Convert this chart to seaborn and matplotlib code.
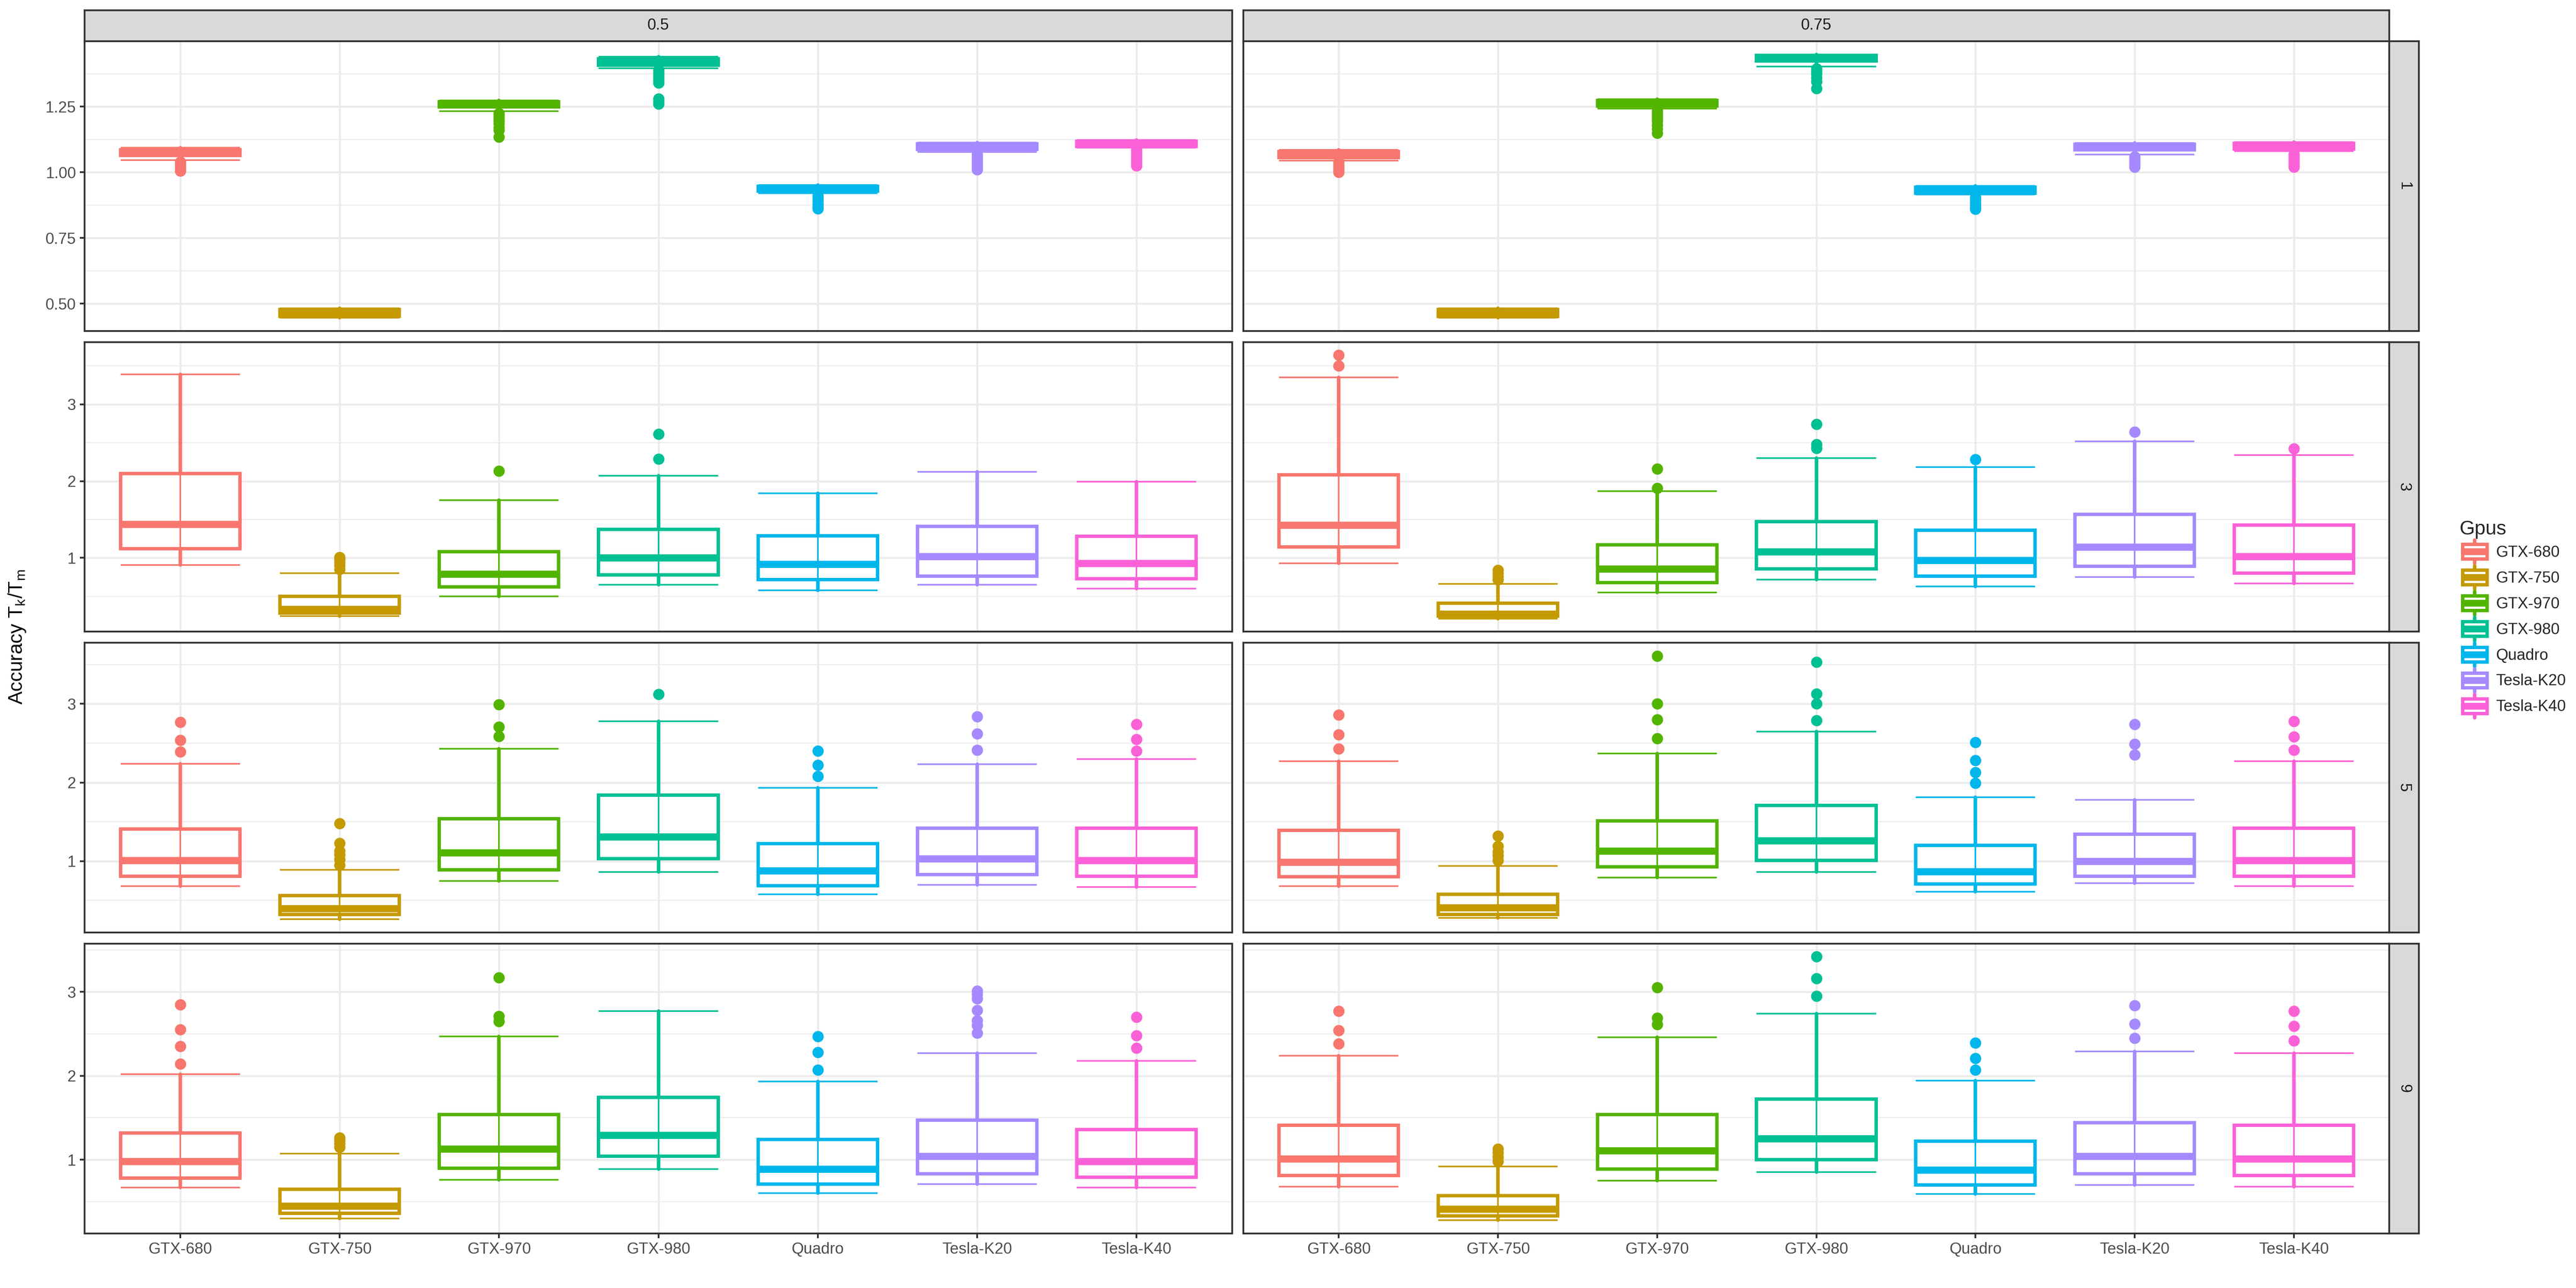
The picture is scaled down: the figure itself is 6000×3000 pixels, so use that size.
import numpy as np
import matplotlib
matplotlib.use("Agg")
import matplotlib.pyplot as plt
import seaborn as sns
from matplotlib.legend_handler import HandlerBase
from matplotlib.patches import Rectangle
from matplotlib.lines import Line2D
from matplotlib.ticker import MultipleLocator, FormatStrFormatter

# ---------------- data ----------------
gpus = ["GTX-680", "GTX-750", "GTX-970", "GTX-980", "Quadro", "Tesla-K20", "Tesla-K40"]
col_labels = ["0.5", "0.75"]
row_labels = ["1", "3", "5", "9"]
colors = ["#F8766D", "#C49A00", "#53B400", "#00C094", "#00B6EB", "#A58AFF", "#FB61D7"]

# indexed [row][col][gpu]
whisker_low = [
    [[1.047, 0.447, 1.233, 1.396, 0.920, 1.077, 1.093],
     [1.045, 0.446, 1.243, 1.403, 0.915, 1.067, 1.080]],
    [[0.91, 0.24, 0.50, 0.65, 0.58, 0.65, 0.60],
     [0.93, 0.21, 0.55, 0.72, 0.63, 0.75, 0.67]],
    [[0.68, 0.26, 0.75, 0.86, 0.58, 0.70, 0.67],
     [0.68, 0.28, 0.79, 0.86, 0.61, 0.72, 0.68]],
    [[0.67, 0.30, 0.76, 0.89, 0.60, 0.71, 0.67],
     [0.68, 0.28, 0.75, 0.85, 0.59, 0.70, 0.68]],
]
quart1 = [
    [[1.064, 0.452, 1.249, 1.408, 0.928, 1.087, 1.099],
     [1.057, 0.451, 1.252, 1.424, 0.920, 1.085, 1.089]],
    [[1.12, 0.28, 0.62, 0.78, 0.72, 0.76, 0.73],
     [1.14, 0.24, 0.68, 0.86, 0.76, 0.89, 0.80]],
    [[0.81, 0.32, 0.89, 1.03, 0.69, 0.83, 0.81],
     [0.80, 0.32, 0.93, 1.01, 0.71, 0.81, 0.81]],
    [[0.78, 0.36, 0.90, 1.04, 0.71, 0.83, 0.79],
     [0.81, 0.33, 0.89, 1.00, 0.70, 0.83, 0.81]],
]
median = [
    [[1.075, 0.462, 1.259, 1.418, 0.938, 1.098, 1.108],
     [1.068, 0.460, 1.263, 1.436, 0.932, 1.097, 1.100]],
    [[1.44, 0.33, 0.79, 1.00, 0.92, 1.02, 0.93],
     [1.43, 0.27, 0.86, 1.08, 0.97, 1.14, 1.02]],
    [[1.01, 0.40, 1.11, 1.31, 0.88, 1.03, 1.01],
     [0.99, 0.41, 1.13, 1.26, 0.87, 1.00, 1.01]],
    [[0.98, 0.45, 1.13, 1.29, 0.89, 1.04, 0.98],
     [1.01, 0.41, 1.11, 1.25, 0.88, 1.04, 1.01]],
]
quart3 = [
    [[1.086, 0.477, 1.268, 1.432, 0.946, 1.108, 1.118],
     [1.079, 0.477, 1.274, 1.446, 0.944, 1.107, 1.110]],
    [[2.10, 0.50, 1.08, 1.37, 1.29, 1.41, 1.28],
     [2.08, 0.41, 1.17, 1.47, 1.36, 1.57, 1.43]],
    [[1.41, 0.56, 1.54, 1.84, 1.22, 1.42, 1.42],
     [1.39, 0.58, 1.51, 1.71, 1.20, 1.34, 1.42]],
    [[1.32, 0.65, 1.54, 1.74, 1.24, 1.47, 1.36],
     [1.41, 0.57, 1.54, 1.72, 1.22, 1.44, 1.41]],
]
whisker_high = [
    [[1.093, 0.482, 1.274, 1.440, 0.951, 1.113, 1.123],
     [1.085, 0.482, 1.279, 1.449, 0.948, 1.111, 1.115]],
    [[3.39, 0.80, 1.75, 2.07, 1.84, 2.12, 1.99],
     [3.35, 0.66, 1.87, 2.30, 2.18, 2.52, 2.34]],
    [[2.24, 0.89, 2.43, 2.78, 1.93, 2.23, 2.30],
     [2.27, 0.94, 2.37, 2.65, 1.81, 1.78, 2.27]],
    [[2.02, 1.07, 2.47, 2.77, 1.93, 2.27, 2.18],
     [2.24, 0.92, 2.46, 2.74, 1.94, 2.29, 2.27]],
]
outliers = [
    [[[1.04, 1.03, 1.02, 1.01, 1.005], [],
      [1.225, 1.215, 1.205, 1.195, 1.185, 1.17, 1.16, 1.135],
      [1.39, 1.38, 1.37, 1.36, 1.35, 1.34, 1.28, 1.27, 1.26],
      [0.91, 0.90, 0.89, 0.88, 0.87, 0.862],
      [1.07, 1.06, 1.05, 1.04, 1.03, 1.02, 1.01],
      [1.085, 1.075, 1.065, 1.055, 1.045, 1.035, 1.025]],
     [[1.04, 1.03, 1.02, 1.01, 1.0], [],
      [1.235, 1.225, 1.215, 1.205, 1.195, 1.18, 1.165, 1.15],
      [1.395, 1.385, 1.375, 1.36, 1.345, 1.32],
      [0.905, 0.895, 0.885, 0.875, 0.865, 0.86],
      [1.06, 1.05, 1.04, 1.03, 1.02],
      [1.07, 1.06, 1.05, 1.04, 1.03, 1.02]]],
    [[[], [0.85, 0.90, 0.94, 0.98, 1.01], [2.13], [2.29, 2.61], [], [], []],
     [[3.50, 3.64], [0.72, 0.76, 0.80, 0.84], [1.91, 2.16], [2.43, 2.48, 2.74],
      [2.28], [2.64], [2.42]]],
    [[[2.39, 2.54, 2.77], [0.95, 1.02, 1.08, 1.13, 1.23, 1.48], [2.59, 2.71, 2.99],
      [3.12], [2.08, 2.22, 2.40], [2.41, 2.62, 2.84], [2.40, 2.55, 2.74]],
     [[2.43, 2.61, 2.86], [1.01, 1.07, 1.12, 1.19, 1.32], [2.56, 2.80, 3.00, 3.61],
      [2.79, 3.00, 3.13, 3.53], [1.99, 2.13, 2.28, 2.51], [2.35, 2.49, 2.74],
      [2.41, 2.58, 2.78]]],
    [[[2.14, 2.35, 2.55, 2.85], [1.15, 1.19, 1.23, 1.26], [2.65, 2.71, 3.17], [],
      [2.07, 2.28, 2.47], [2.51, 2.60, 2.66, 2.78, 2.92, 2.97, 3.01],
      [2.33, 2.48, 2.70]],
     [[2.38, 2.54, 2.77], [0.98, 1.03, 1.08, 1.13], [2.61, 2.69, 3.05],
      [2.95, 3.16, 3.42], [2.07, 2.21, 2.39], [2.45, 2.62, 2.84], [2.42, 2.59, 2.77]]],
]

# ---------------- style ----------------
sns.set_theme(style="white")
plt.rcParams['font.family'] = ['Liberation Sans', 'DejaVu Sans']
plt.rcParams['mathtext.fontset'] = 'custom'
plt.rcParams['mathtext.rm'] = 'Liberation Sans'
plt.rcParams['mathtext.it'] = 'Liberation Sans'

W, H, DPI = 6000, 3000, 300
fig = plt.figure(figsize=(W / DPI, H / DPI), dpi=DPI)
fig.patch.set_facecolor("white")

BORDER = "#333333"
GRID = "#EBEBEB"
STRIP = "#D9D9D9"

col_x = [(197, 2870), (2896, 5565)]
row_top = [96, 796.5, 1497, 2197.5]
PANEL_H = 675
STRIP_TOP = 23.5
STRIP_R = (5565, 5634)


def fig_rect(x0, y0, x1, y1):
    return [x0 / W, 1 - y1 / H, (x1 - x0) / W, (y1 - y0) / H]


def style_box(ax):
    for s in ax.spines.values():
        s.set_visible(True)
        s.set_color(BORDER)
        s.set_linewidth(1.0)


positions = np.arange(1, len(gpus) + 1)

for r in range(len(row_labels)):
    # shared y-range for the row (free_y), 5% expansion
    vals = []
    for c in range(2):
        vals += whisker_low[r][c] + whisker_high[r][c]
        for o in outliers[r][c]:
            vals += o
    lo_v, hi_v = min(vals), max(vals)
    pad = 0.05 * (hi_v - lo_v)
    ylim = (lo_v - pad, hi_v + pad)

    for c in range(2):
        x0, x1 = col_x[c]
        top = row_top[r]
        ax = fig.add_axes(fig_rect(x0, top, x1, top + PANEL_H))
        ax.set_facecolor("white")
        ax.set_xlim(0.4, len(gpus) + 0.6)
        ax.set_ylim(*ylim)
        if r == 0:
            ax.yaxis.set_major_locator(MultipleLocator(0.25))
            ax.yaxis.set_minor_locator(MultipleLocator(0.125))
            ax.yaxis.set_major_formatter(FormatStrFormatter("%.2f"))
        else:
            ax.yaxis.set_major_locator(MultipleLocator(1))
            ax.yaxis.set_minor_locator(MultipleLocator(0.5))
            ax.yaxis.set_major_formatter(FormatStrFormatter("%d"))
        ax.set_xticks(positions)
        ax.set_axisbelow(True)
        ax.grid(which="minor", axis="y", color=GRID, linewidth=0.55)
        ax.grid(which="major", axis="both", color=GRID, linewidth=1.1)
        style_box(ax)

        for i, g in enumerate(gpus):
            col = colors[i]
            st = dict(med=median[r][c][i], q1=quart1[r][c][i], q3=quart3[r][c][i],
                      whislo=whisker_low[r][c][i], whishi=whisker_high[r][c][i],
                      fliers=np.array(outliers[r][c][i]))
            ax.bxp([st], positions=[positions[i]], widths=0.75, patch_artist=True,
                   showcaps=False, manage_ticks=False,
                   boxprops=dict(facecolor="white", edgecolor=col, linewidth=1.9),
                   whiskerprops=dict(color=col, linewidth=2.0),
                   medianprops=dict(color=col, linewidth=4.0, solid_capstyle="butt"),
                   flierprops=dict(marker="o", markerfacecolor=col, markeredgecolor=col,
                                   markersize=6.3, markeredgewidth=0, linestyle="none"),
                   zorder=2)
            # error bar layer (stat_boxplot errorbar) drawn on top
            ax.vlines(positions[i], whisker_low[r][c][i], whisker_high[r][c][i],
                      color=col, linewidth=0.9, zorder=3)
            ax.hlines([whisker_low[r][c][i], whisker_high[r][c][i]],
                      positions[i] - 0.375, positions[i] + 0.375,
                      color=col, linewidth=0.9, zorder=3)

        # ticks
        ax.tick_params(axis="both", which="minor", length=0)
        if c == 0:
            ax.tick_params(axis="y", which="major", left=True, length=11 * 72 / DPI,
                           width=1.0, color=BORDER, labelsize=8.8,
                           labelcolor="#4D4D4D", pad=2.2)
        else:
            ax.tick_params(axis="y", which="major", left=False, labelleft=False)
        if r == len(row_labels) - 1:
            ax.set_xticklabels(gpus)
            ax.tick_params(axis="x", which="major", bottom=True, length=11 * 72 / DPI,
                           width=1.0, color=BORDER, labelsize=8.8,
                           labelcolor="#4D4D4D", pad=2.2)
        else:
            ax.tick_params(axis="x", which="major", bottom=False, labelbottom=False)
        ax.set_xlabel("")
        ax.set_ylabel("")

# top strips
for c in range(2):
    x0, x1 = col_x[c]
    sax = fig.add_axes(fig_rect(x0, STRIP_TOP, x1, row_top[0]))
    sax.set_facecolor(STRIP)
    sax.set_xticks([]); sax.set_yticks([])
    style_box(sax)
    sax.text(0.5, 0.5, col_labels[c], transform=sax.transAxes, ha="center",
             va="center", fontsize=8.8, color="#1A1A1A")

# right strips
for r in range(len(row_labels)):
    top = row_top[r]
    sax = fig.add_axes(fig_rect(STRIP_R[0], top, STRIP_R[1], top + PANEL_H))
    sax.set_facecolor(STRIP)
    sax.set_xticks([]); sax.set_yticks([])
    style_box(sax)
    sax.text(0.5, 0.5, row_labels[r], transform=sax.transAxes, ha="center",
             va="center", fontsize=8.8, color="#1A1A1A", rotation=270)

# y label
fig.text(40 / W, 1 - 1484 / H, r"Accuracy $\mathregular{T_k/T_m}$", rotation=90,
         ha="center", va="center", fontsize=11, color="black")


# legend with box-plot glyphs
class BoxKey(HandlerBase):
    def create_artists(self, legend, orig_handle, xdescent, ydescent, width, height,
                       fontsize, trans):
        col = orig_handle.get_color()
        x0, y0 = -xdescent, -ydescent
        cx = x0 + width / 2
        whisk = Line2D([cx, cx], [y0 + 0.05 * height, y0 + 0.95 * height], color=col,
                       lw=2.0, solid_capstyle="round")
        box = Rectangle((x0 + 0.1 * width, y0 + 0.22 * height), 0.8 * width,
                        0.56 * height, facecolor="white", edgecolor=col, lw=1.9)
        med = Line2D([x0 + 0.1 * width, x0 + 0.9 * width], [y0 + 0.5 * height] * 2,
                     color=col, lw=3.8, solid_capstyle="butt")
        for a in (whisk, box, med):
            a.set_transform(trans)
        return [whisk, box, med]


handles = [Line2D([], [], color=col) for col in colors]
leg = fig.legend(handles, gpus, title="Gpus", loc="center left",
                 bbox_to_anchor=(5710 / W, 1 - 1443 / H), frameon=False,
                 fontsize=8.8, title_fontsize=11, handlelength=1.96, handleheight=2.14,
                 labelspacing=0.0, handletextpad=0.35, borderpad=0.0,
                 alignment="left", handler_map={Line2D: BoxKey()})

fig.savefig("out.png", dpi=DPI, facecolor="white")
